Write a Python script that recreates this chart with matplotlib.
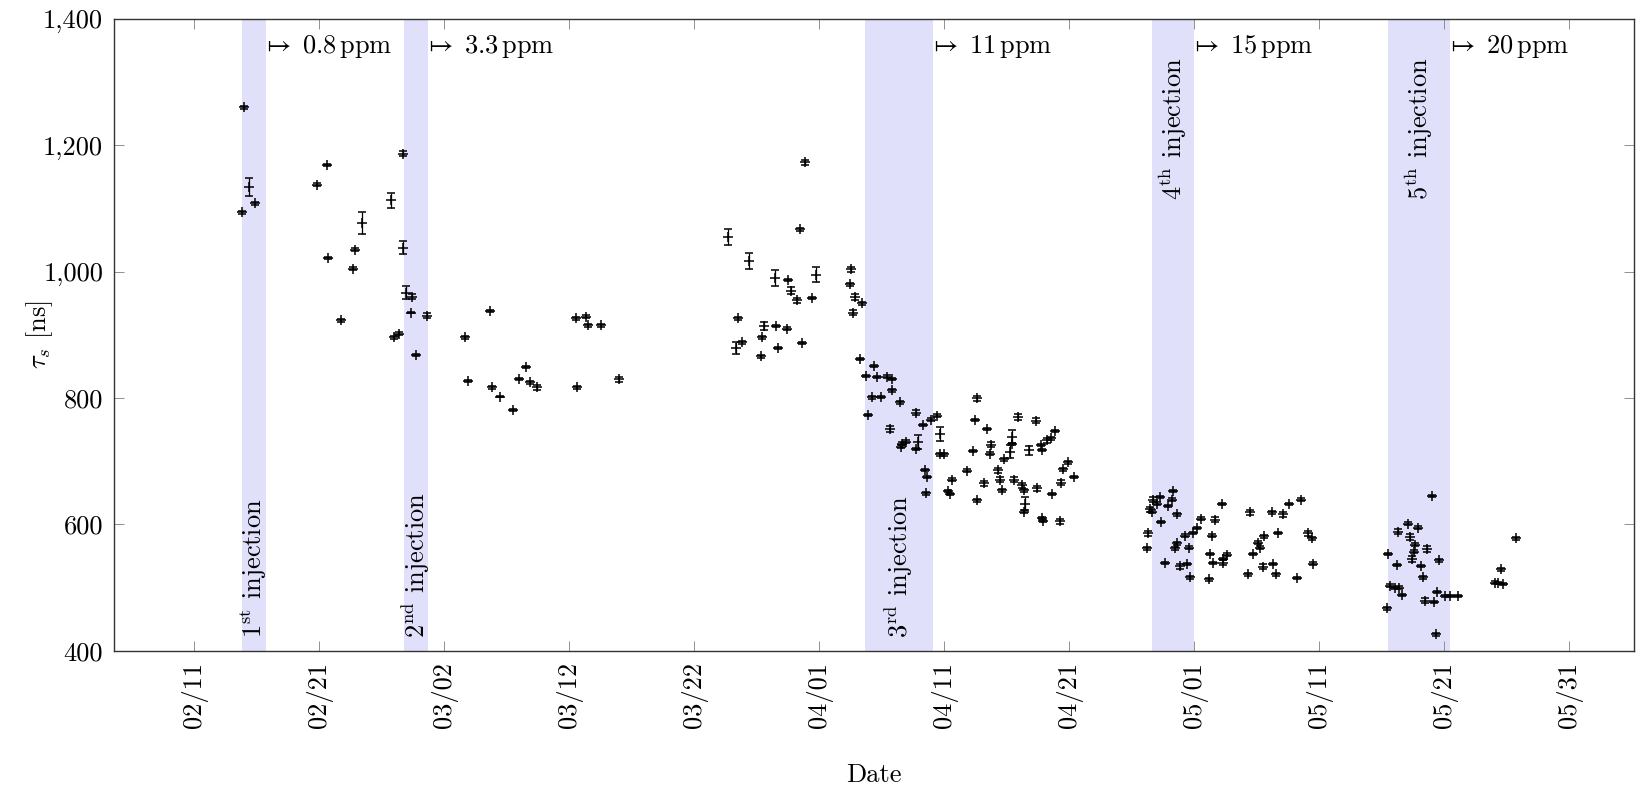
import numpy as np
import matplotlib
matplotlib.use("Agg")
import matplotlib.pyplot as plt
import matplotlib.dates as mdates
from matplotlib.ticker import FuncFormatter
from matplotlib.transforms import blended_transform_factory, offset_copy

plt.rcParams['font.family'] = 'serif'
plt.rcParams['font.serif'] = ['cmr10']
plt.rcParams['mathtext.fontset'] = 'cm'
plt.rcParams['axes.formatter.use_mathtext'] = True

# reference date, all measurement times are given in days after it
t0 = np.datetime64('2024-02-11T00:00')

# days after 02/11, lifetime tau_s [ns], error [ns]
days = [
    4.0, 4.4, 4.86, 3.87, 9.87, 10.64, 10.72, 12.86, 12.75, 13.47, 11.74, 15.74,
    16.72, 16.69, 16.94, 17.47, 17.39, 18.67, 16.0, 16.4, 17.79,
    21.66, 21.95, 23.68, 23.82, 24.46, 25.52, 26.56, 26.0, 26.9, 27.47, 30.67,
    30.54, 31.39, 31.52, 32.54, 34.0,
    48.86, 48.46, 42.75, 44.4, 46.46, 49.74, 47.55, 47.74, 48.27, 49.42, 52.54,
    52.46, 52.86, 53.47, 52.72, 43.52, 45.6, 46.59, 47.42, 45.47, 43.34, 43.87,
    46.75, 45.34, 48.62, 53.26, 54.4, 53.74, 54.67,
    55.42, 55.87, 54.27, 54.94, 55.87, 56.46, 53.95, 55.68, 57.79, 58.35, 58.94,
    59.42, 56.67, 56.54, 56.94, 57.95, 57.74, 59.68, 59.68, 60.0, 58.46, 58.67,
    58.59, 60.67, 60.32, 60.48, 61.82, 62.67, 62.46, 63.42, 62.3, 62.62, 63.2,
    63.74, 63.68, 64.35, 64.46, 64.67, 64.8, 65.42, 65.28, 65.47, 65.92, 67.34,
    66.8, 67.74, 67.82, 68.27, 65.6, 66.27, 66.4, 67.47, 66.46, 66.4, 67.87,
    68.86, 68.54, 69.92, 69.52, 70.4, 69.34, 68.67, 67.95, 69.26,
    78.3, 77.28, 76.74, 78.21, 77.95, 76.48, 76.6, 77.0, 78.6, 77.36, 76.34,
    76.26, 82.21, 80.56, 81.68, 80.21, 79.94, 79.28, 81.42, 78.66, 78.48, 79.63,
    77.68, 78.88, 79.42, 79.68, 81.23, 81.28, 81.5, 82.35, 82.62, 82.3, 84.48,
    86.22, 87.15, 87.6, 88.56, 85.6, 86.7, 85.14, 85.28, 84.7, 85.5, 86.3, 84.3,
    86.56, 88.22, 89.14, 89.42, 89.5,
    99.07, 97.15, 97.95, 96.35, 97.28, 97.68, 98.67, 97.63, 95.54, 97.47, 99.62,
    96.2, 98.14, 98.28, 95.68, 96.43, 96.08, 96.62, 95.4, 99.47, 98.48, 99.2,
    100.08, 100.48, 101.15, 99.33, 105.73, 104.56, 104.08, 104.75, 104.35,
]
tau = [
    1260, 1134, 1108, 1094, 1138, 1169, 1022, 1035, 1005, 1077, 923, 1113,
    1187, 1038, 967, 960, 935, 930, 896, 902, 868,
    896, 827, 938, 817, 802, 781, 849, 830, 825, 817, 817,
    926, 929, 915, 915, 830,
    1173, 1067, 1055, 1017, 990, 995, 987, 970, 955, 958, 1004,
    980, 960, 950, 935, 926, 914, 914, 910, 896, 879, 888,
    879, 866, 887, 862, 851, 835, 833,
    834, 830, 801, 802, 812, 793, 773, 751, 777, 757, 766,
    772, 728, 723, 731, 731, 719, 743, 711, 711, 686, 675,
    649, 671, 653, 648, 685, 800, 765, 751, 716, 638, 665,
    726, 712, 686, 671, 654, 703, 739, 715, 727, 770, 764,
    717, 726, 718, 733, 671, 662, 654, 657, 633, 620, 610,
    748, 736, 698, 687, 675, 666, 648, 605, 605,
    653, 643, 639, 639, 629, 624, 620, 633, 616, 604, 586,
    562, 632, 609, 607, 594, 586, 582, 582, 570, 562, 563,
    539, 534, 537, 516, 513, 553, 539, 539, 552, 545, 619,
    619, 616, 632, 639, 581, 586, 571, 563, 553, 533, 537, 521,
    521, 515, 586, 578, 538,
    645, 601, 595, 588, 580, 568, 561, 557, 553, 545, 543,
    536, 534, 516, 503, 500, 499, 488, 467, 493, 479, 477,
    487, 487, 487, 426, 578, 529, 508, 506, 507,
]
err = [
    2, 14, 2, 2, 2, 2, 2, 2, 2, 18, 2, 12,
    4, 10, 11, 4, 1, 4, 2, 2, 1,
    2, 2, 2, 2, 1, 2, 2, 2, 2, 4, 2,
    2, 2, 2, 2, 4,
    4, 2, 13, 13, 12, 12, 2, 6, 4, 2, 4,
    2, 5, 2, 4, 2, 7, 2, 2, 2, 9, 2,
    2, 2, 2, 2, 2, 2, 2,
    2, 2, 2, 2, 2, 2, 2, 4, 4, 2, 2,
    2, 2, 2, 2, 11, 2, 11, 2, 2, 2, 2,
    2, 2, 2, 2, 2, 4, 2, 2, 2, 2, 4,
    4, 2, 4, 4, 2, 2, 10, 10, 2, 4, 4,
    7, 2, 2, 4, 4, 4, 2, 4, 11, 2, 2,
    2, 2, 2, 2, 2, 4, 2, 2, 4,
    2, 2, 4, 2, 2, 4, 2, 2, 2, 2, 4,
    2, 2, 2, 4, 2, 2, 2, 2, 2, 2, 2,
    2, 4, 2, 2, 2, 2, 2, 4, 2, 2, 4,
    2, 4, 2, 2, 2, 2, 2, 2, 2, 4, 2, 2,
    2, 2, 4, 2, 2,
    2, 2, 2, 4, 4, 2, 4, 2, 2, 5, 2,
    2, 2, 2, 2, 2, 2, 2, 2, 2, 4, 2,
    2, 2, 2, 2, 2, 2, 2, 2, 2,
]

# injection periods (start, end) in days after 02/11
inj_start = [3.82, 16.8, 53.68, 76.62, 95.52]
inj_end = [5.76, 18.74, 59.1, 80.02, 100.48]
inj_labels = [r'$1^{\rm st}$ injection', r'$2^{\rm nd}$ injection', r'$3^{\rm rd}$ injection',
              r'$4^{\rm th}$ injection', r'$5^{\rm th}$ injection']
conc_labels = ['0.8', '3.3', '11', '15', '20']

FS = 19

def to_date(d):
    return t0 + (np.asarray(d) * 86400).astype('timedelta64[s]')

fig = plt.figure(figsize=(16.37, 7.86), dpi=100)
ax = fig.add_axes([0.0698, 0.1721, 0.9284, 0.8037])

trans = blended_transform_factory(ax.transData, ax.transAxes)
trans_ppm = offset_copy(trans, fig=fig, x=-4, units='dots')
for i in range(len(inj_start)):
    ax.axvspan(to_date(inj_start[i]), to_date(inj_end[i]), color='#e0e0fb', lw=0, zorder=0)
    mid = to_date((inj_start[i] + inj_end[i]) / 2)
    if i < 3:
        ax.text(mid, 0.02, inj_labels[i], rotation=90, ha='center', va='bottom',
                fontsize=FS, transform=trans)
    else:
        ax.text(mid, 0.94, inj_labels[i], rotation=90, ha='center', va='top',
                fontsize=FS, transform=trans)
    ax.text(to_date(inj_end[i]), 0.956, r'$\mapsto\;$' + conc_labels[i] + r'$\,$ppm',
            ha='left', va='center', fontsize=FS, transform=trans_ppm)

ax.errorbar(to_date(days), tau, yerr=err, fmt='+', color='black', ecolor='black',
            ms=7.5, mew=1.1, elinewidth=0.9, capsize=3, capthick=0.9, zorder=3)

ax.set_xlim(to_date(-6.38), to_date(115.2))
ax.set_ylim(400, 1400)
ax.set_yticks([400, 600, 800, 1000, 1200, 1400])
ax.yaxis.set_major_formatter(FuncFormatter(lambda v, p: f'{v:,.0f}'))
ax.set_xticks(to_date(np.arange(0, 111, 10)))
ax.xaxis.set_major_formatter(mdates.DateFormatter('%m/%d'))

ax.tick_params(direction='in', length=7, width=0.7, color='#909090', top=True, right=True,
               labelsize=FS, pad=8)
ax.tick_params(axis='x', labelrotation=90)
for s in ax.spines.values():
    s.set_linewidth(1.0)
    s.set_color('#333333')

ax.set_xlabel('Date', fontsize=FS)
ax.set_ylabel(r'$\tau_s$ [ns]', fontsize=FS)
ax.xaxis.set_label_coords(0.5, -0.178)
ax.yaxis.set_label_coords(-0.039, 0.5)

fig.savefig('out.png', dpi=100)
